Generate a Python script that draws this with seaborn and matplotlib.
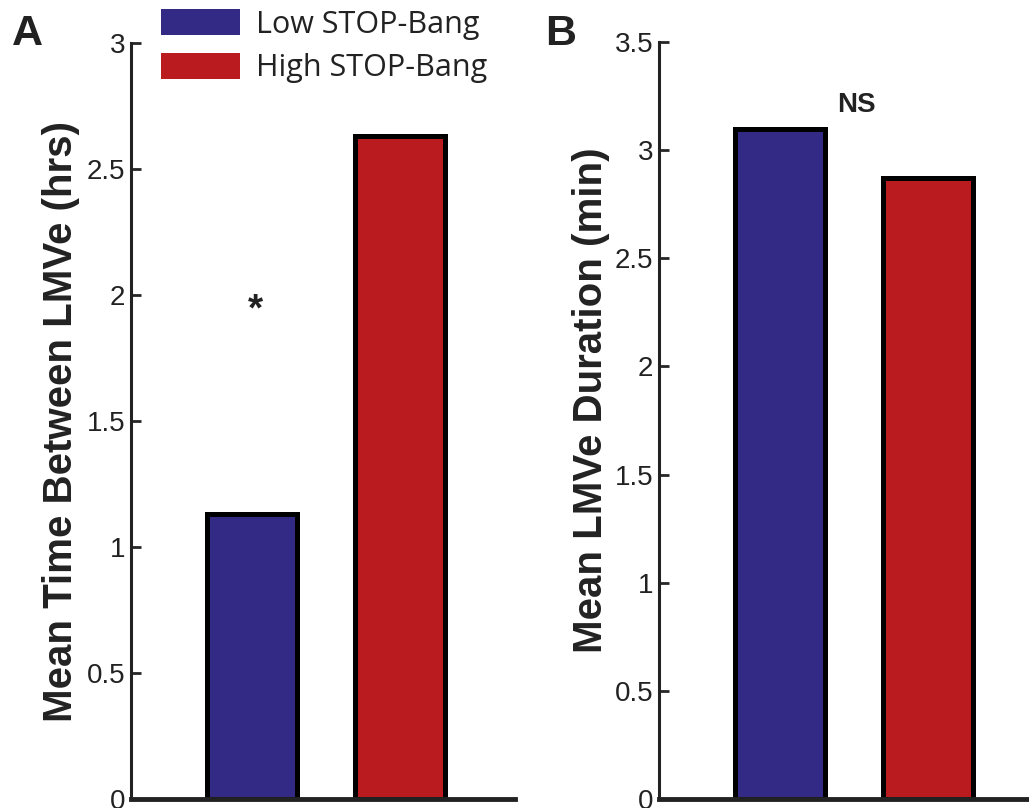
import matplotlib
matplotlib.use("Agg")
import matplotlib.pyplot as plt
import matplotlib.patches as mpatches
import seaborn as sns

# data
groups = ["Low STOP-Bang", "High STOP-Bang"]
time_between = [1.13, 2.63]      # panel A, hrs
duration = [3.10, 2.87]          # panel B, min
colors = ["#332A85", "#B91B1E"]

ticks_a = [0, 0.5, 1, 1.5, 2, 2.5, 3]
ticks_b = [0, 0.5, 1, 1.5, 2, 2.5, 3, 3.5]


def tick_label(v):
    return f"{v:g}"


sns.set_style("ticks")
plt.rcParams['font.family'] = ['Liberation Sans', 'DejaVu Sans']

fig = plt.figure(figsize=(10.29, 8.08), dpi=100)
ax1 = fig.add_axes([131 / 1029, 9 / 808, 384 / 1029, 756 / 808])
ax2 = fig.add_axes([659 / 1029, 9 / 808, 384 / 1029, 757 / 808])


def draw_panel(ax, values, ticks, ylabel, label_x, label_y):
    sns.barplot(x=groups, y=values, hue=groups, palette=colors, width=0.61,
                edgecolor="black", linewidth=3.6, saturation=1, legend=False,
                ax=ax)
    ax.set_xlim(-0.82, 1.78)
    ax.set_ylim(0, ticks[-1])
    ax.set_xticks([])
    ax.set_xlabel("")
    ax.set_yticks(ticks)
    ax.set_yticklabels([tick_label(t) for t in ticks], fontsize=20, color="#222222")
    ax.tick_params(axis="y", direction="in", length=7, width=2, pad=4)
    for s in ["top", "right"]:
        ax.spines[s].set_visible(False)
    ax.spines["left"].set_linewidth(2.2)
    ax.spines["left"].set_color("#222222")
    ax.spines["left"].set_bounds(0, ticks[-1])
    ax.spines["bottom"].set_linewidth(3.5)
    ax.spines["bottom"].set_color("#222222")
    ax.set_ylabel(ylabel, fontsize=29, fontweight="bold", color="#222222")
    ax.yaxis.set_label_coords(label_x, label_y)


draw_panel(ax1, time_between, ticks_a, "Mean Time Between LMVe (hrs)", -0.133, 0.499)
draw_panel(ax2, duration, ticks_b, "Mean LMVe Duration (min)", -0.128, 0.527)

# significance marks
ax1.text(0.02, 1.94, "*", ha="center", va="center", fontsize=28, fontweight="bold",
         color="#222222")
ax2.text(0.52, 3.21, "NS", ha="center", va="center", fontsize=20, fontweight="bold",
         color="#222222")

# panel letters
fig.text(12 / 1029, 1 - 45 / 808, "A", fontsize=31, fontweight="bold", va="baseline",
         color="#222222")
fig.text(545 / 1029, 1 - 45 / 808, "B", fontsize=31, fontweight="bold", va="baseline",
         color="#222222")

handles = [mpatches.Patch(facecolor=c, edgecolor="none") for c in colors]
fig.legend(handles, groups, loc="upper left", bbox_to_anchor=(161 / 1029, 1 - 9 / 808),
           frameon=False, handlelength=2.6, handleheight=0.95,
           handletextpad=0.5, labelspacing=0.42, borderpad=0, borderaxespad=0,
           labelcolor="#222222", prop={"family": "Open Sans", "size": 22})

fig.savefig("out.png", dpi=100)
